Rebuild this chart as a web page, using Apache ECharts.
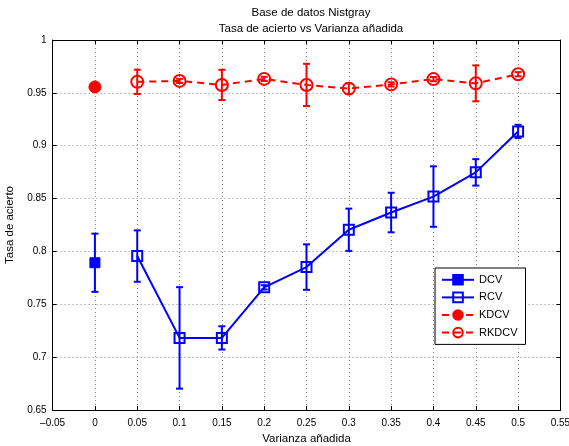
<!DOCTYPE html>
<html>
<head>
<meta charset="utf-8">
<script src="https://cdn.jsdelivr.net/npm/echarts@6/dist/echarts.min.js"></script>
<style>html,body{margin:0;padding:0;background:#fff;}#c{width:569px;height:446px;}</style>
</head>
<body>
<div id="c"></div>
<script>
// ---- data ----
var titleLines = ['Base de datos Nistgray', 'Tasa de acierto vs Varianza añadida'];
var xName = 'Varianza añadida';
var yName = 'Tasa de acierto';
var xTicks = [-0.05, 0, 0.05, 0.1, 0.15, 0.2, 0.25, 0.3, 0.35, 0.4, 0.45, 0.5, 0.55];
var yTicks = [0.65, 0.7, 0.75, 0.8, 0.85, 0.9, 0.95, 1];

var dcvX = [0];
var dcvY = [0.7893];
var dcvErr = [0.0275];

var kdcvX = [0];
var kdcvY = [0.9556];

var varX = [0.05, 0.1, 0.15, 0.2, 0.25, 0.3, 0.35, 0.4, 0.45, 0.5];
var rcvY = [0.7956, 0.7182, 0.7182, 0.766, 0.7852, 0.8205, 0.8368, 0.8519, 0.8748, 0.9135];
var rcvErr = [0.0243, 0.048, 0.011, 0.002, 0.0215, 0.020, 0.0187, 0.0286, 0.0125, 0.0063];
var rkdcvY = [0.9604, 0.9613, 0.9575, 0.9632, 0.9575, 0.954, 0.958, 0.963, 0.959, 0.9676];
var rkdcvErr = [0.0115, 0.002, 0.0143, 0.002, 0.020, 0.005, 0.002, 0.002, 0.017, 0.002];

// ---- build ----
function pairs(xs, ys) { return xs.map(function (x, i) { return [x, ys[i]]; }); }
function triples(xs, ys, es) { return xs.map(function (x, i) { return [x, ys[i], es[i]]; }); }

var BLUE = '#0000ff', RED = '#ff0000';

function errSeries(data, color) {
  return {
    type: 'custom',
    z: 1,
    silent: true,
    data: data,
    encode: { x: 0, y: [1, 2] },
    renderItem: function (params, api) {
      var x = api.value(0), y = api.value(1), e = api.value(2);
      var top = api.coord([x, y + e]);
      var bot = api.coord([x, y - e]);
      var w = 3.5;
      var st = { stroke: color, lineWidth: 2 };
      return {
        type: 'group',
        children: [
          { type: 'line', shape: { x1: top[0], y1: top[1], x2: bot[0], y2: bot[1] }, style: st },
          { type: 'line', shape: { x1: top[0] - w, y1: top[1], x2: top[0] + w, y2: top[1] }, style: st },
          { type: 'line', shape: { x1: bot[0] - w, y1: bot[1], x2: bot[0] + w, y2: bot[1] }, style: st }
        ]
      };
    }
  };
}

function fmt(v) {
  var s = String(Math.round(v * 100) / 100);
  return s.replace('-', '\u2013');
}

var FONT = 'Liberation Sans';
var chart = echarts.init(document.getElementById('c'), null, { renderer: 'canvas' });
chart.setOption({
  animation: false,
  backgroundColor: '#fff',
  title: {
    text: titleLines.join('\n'),
    left: 306, top: 0, textAlign: 'center',
    textStyle: { fontFamily: FONT, fontSize: 11.5, fontWeight: 'normal', color: '#000', lineHeight: 16 }
  },
  grid: { left: 52.6, right: 8.6, top: 40, bottom: 36, show: false, outerBoundsMode: 'none', containLabel: false },
  legend: {
    orient: 'vertical',
    left: 435, top: 268,
    data: ['DCV', 'RCV', 'KDCV', 'RKDCV'],
    backgroundColor: '#fff',
    borderColor: '#000', borderWidth: 1,
    padding: [6, 8, 6, 6],
    itemGap: 6, itemWidth: 32, itemHeight: 12,
    textStyle: { fontFamily: FONT, fontSize: 11, color: '#000' }
  },
  xAxis: [{
    type: 'value', min: -0.05, max: 0.55, interval: 0.05,
    name: xName, nameLocation: 'middle', nameGap: 23,
    nameTextStyle: { fontFamily: FONT, fontSize: 11.5, color: '#000' },
    axisLine: { onZero: false, lineStyle: { color: '#000', width: 1 } },
    axisTick: { inside: true, length: 4, lineStyle: { color: '#000' } },
    axisLabel: { formatter: fmt, fontFamily: FONT, fontSize: 10, color: '#000', margin: 8, showMaxLabel: true },
    splitLine: { show: true, lineStyle: { color: '#888', type: [1, 3], width: 1 } }
  }, {
    type: 'value', min: -0.05, max: 0.55, interval: 0.05, position: 'top',
    axisLine: { show: true, onZero: false, lineStyle: { color: '#000', width: 1 } },
    axisTick: { show: true, inside: true, length: 4, lineStyle: { color: '#000' } },
    axisLabel: { show: false }, splitLine: { show: false }
  }],
  yAxis: [{
    type: 'value', min: 0.65, max: 1, interval: 0.05,
    name: yName, nameLocation: 'middle', nameGap: 32, nameRotate: 90,
    nameTextStyle: { fontFamily: FONT, fontSize: 11.5, color: '#000' },
    axisLine: { show: true, onZero: false, lineStyle: { color: '#000', width: 1 } },
    axisTick: { show: true, inside: true, length: 4, lineStyle: { color: '#000' } },
    axisLabel: { formatter: fmt, fontFamily: FONT, fontSize: 10, color: '#000', margin: 6 },
    splitLine: { show: true, lineStyle: { color: '#888', type: [1, 3], width: 1 } }
  }, {
    type: 'value', min: 0.65, max: 1, interval: 0.05, position: 'right',
    axisLine: { show: true, onZero: false, lineStyle: { color: '#000', width: 1 } },
    axisTick: { show: true, inside: true, length: 4, lineStyle: { color: '#000' } },
    axisLabel: { show: false }, splitLine: { show: false }
  }],
  series: [
    errSeries(triples(dcvX, dcvY, dcvErr), BLUE),
    errSeries(triples(varX, rcvY, rcvErr), BLUE),
    errSeries(triples(varX, rkdcvY, rkdcvErr), RED),
    {
      name: 'DCV', type: 'line', z: 3, data: pairs(dcvX, dcvY),
      symbol: 'rect', symbolSize: 10,
      lineStyle: { color: BLUE, width: 2 },
      itemStyle: { color: BLUE, borderColor: BLUE, borderWidth: 1 }
    },
    {
      name: 'RCV', type: 'line', z: 3, data: pairs(varX, rcvY),
      symbol: 'rect', symbolSize: 10, showAllSymbol: true,
      lineStyle: { color: BLUE, width: 2 },
      itemStyle: { color: 'rgba(255,255,255,0)', borderColor: BLUE, borderWidth: 2 }
    },
    {
      name: 'KDCV', type: 'line', z: 3, data: pairs(kdcvX, kdcvY),
      symbol: 'circle', symbolSize: 12,
      lineStyle: { color: RED, width: 2, type: [7, 5] },
      itemStyle: { color: RED, borderColor: RED, borderWidth: 1 }
    },
    {
      name: 'RKDCV', type: 'line', z: 3, data: pairs(varX, rkdcvY),
      symbol: 'circle', symbolSize: 12, showAllSymbol: true,
      lineStyle: { color: RED, width: 2, type: [7, 5] },
      itemStyle: { color: 'rgba(255,255,255,0)', borderColor: RED, borderWidth: 2 }
    }
  ]
});
</script>
</body>
</html>
